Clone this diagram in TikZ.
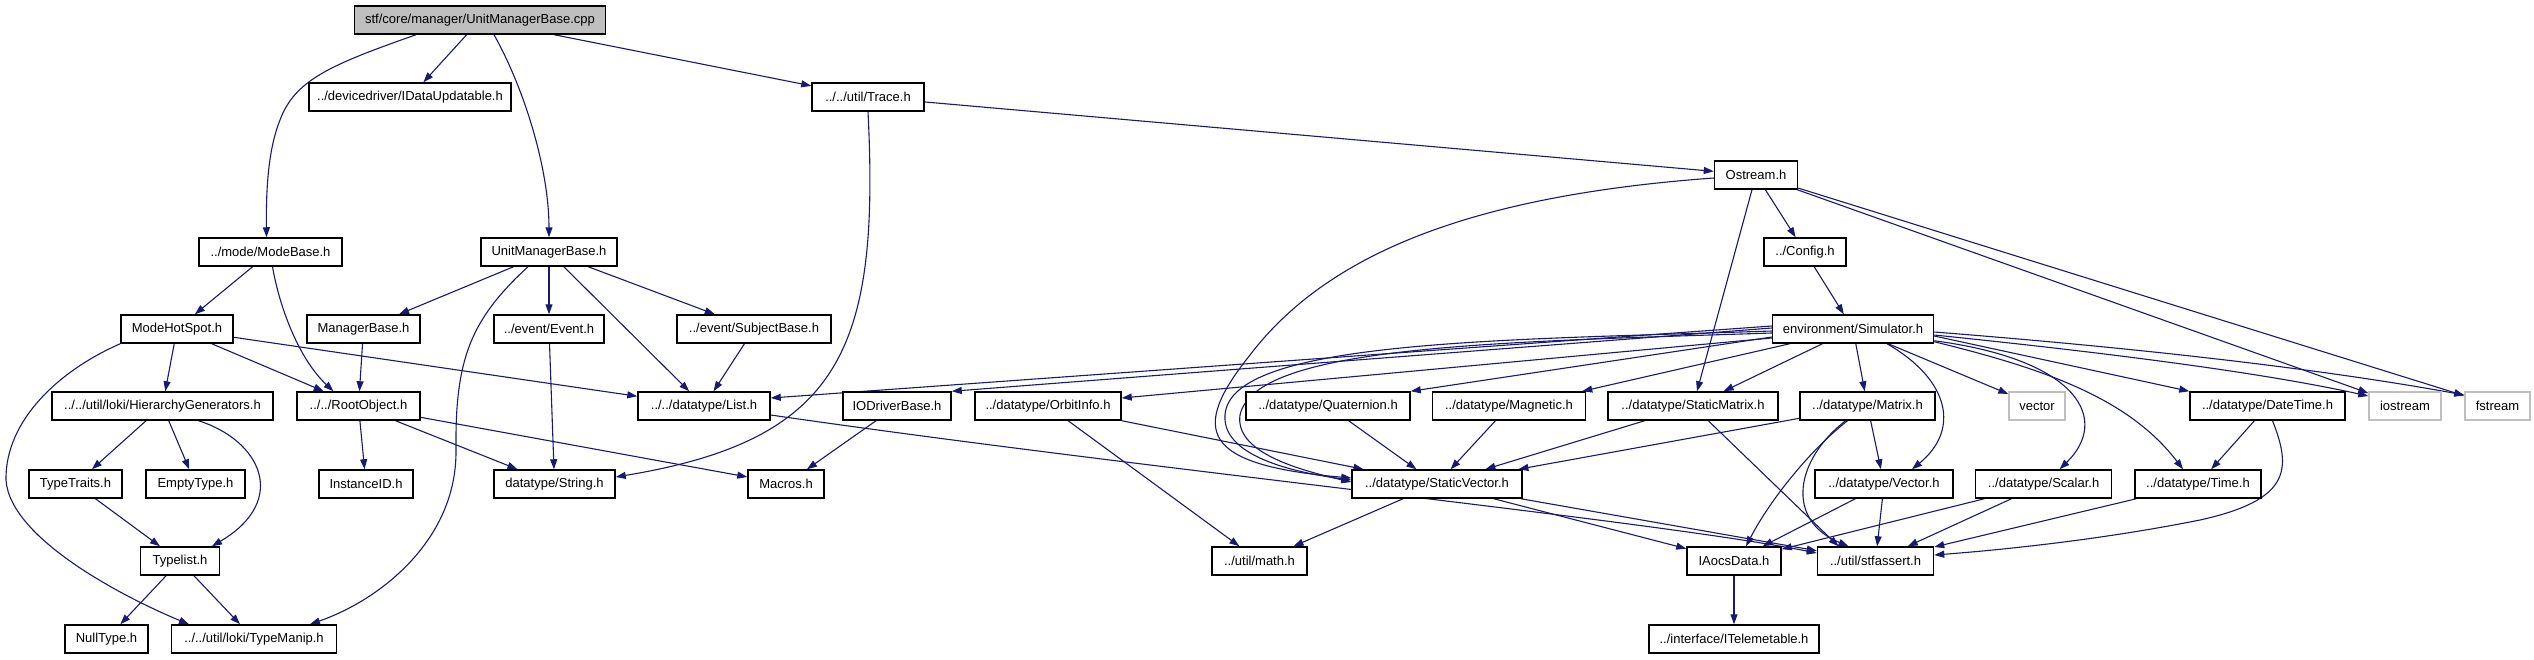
\documentclass[tikz,border=0pt]{standalone}
\usepackage{fontspec}
\setmainfont{Liberation Sans}
\usetikzlibrary{arrows.meta,calc}
\definecolor{edgeblue}{HTML}{191970}
\definecolor{boxgray}{HTML}{BFBFBF}
\pgfdeclarelayer{bgfill}
\pgfdeclarelayer{edges}
\pgfsetlayers{bgfill,edges,main}
\tikzset{
  box/.style={draw=black, line width=1.5pt, fill=white, minimum height=28pt, inner sep=0pt,
    font=\fontsize{13}{15}\selectfont},
  graybox/.style={box, draw=boxgray},
  rootbox/.style={box, fill=boxgray},
  edge/.style={draw=edgeblue, line width=1.1pt, -{Triangle[length=10pt,width=7pt]}},
}
\begin{document}
\begin{tikzpicture}[x=1pt,y=-1pt]
\begin{pgfonlayer}{bgfill}
\fill[white] (0,0) rectangle (2534,659);
\end{pgfonlayer}
\useasboundingbox (0,0) rectangle (2534,659);
% rank 0-2
\node[rootbox, minimum width=251pt] (cpp) at (480,20) {stf/core/manager/UnitManagerBase.cpp};
\node[box, minimum width=202pt] (idu) at (410,97) {../devicedriver/IDataUpdatable.h};
\node[box, minimum width=112pt] (trace) at (868,97) {../../util/Trace.h};
\node[box, minimum width=83pt] (ostream) at (1756,175) {Ostream.h};
% rank 3
\node[box, minimum width=143pt] (modebase) at (270.5,252) {../mode/ModeBase.h};
\node[box, minimum width=136pt] (umb) at (549,252) {UnitManagerBase.h};
\node[box, minimum width=82pt] (config) at (1805,252) {../Config.h};
% rank 4
\node[box, minimum width=112pt] (mhs) at (177,329) {ModeHotSpot.h};
\node[box, minimum width=113pt] (mgrbase) at (363.5,329) {ManagerBase.h};
\node[box, minimum width=110pt] (event) at (549,329) {../event/Event.h};
\node[box, minimum width=154pt] (subject) at (754,329) {../event/SubjectBase.h};
\node[box, minimum width=161pt] (sim) at (1853,329) {environment/Simulator.h};
% rank 5
\node[box, minimum width=221pt] (hg) at (162.5,406) {../../util/loki/HierarchyGenerators.h};
\node[box, minimum width=123pt] (root) at (358.5,406) {../../RootObject.h};
\node[box, minimum width=132pt] (list) at (704,406) {../../datatype/List.h};
\node[box, minimum width=108pt] (iodrv) at (897,406) {IODriverBase.h};
\node[box, minimum width=146pt] (orbit) at (1048,406) {../datatype/OrbitInfo.h};
\node[box, minimum width=164pt] (quat) at (1328,406) {../datatype/Quaternion.h};
\node[box, minimum width=153pt] (magn) at (1509,406) {../datatype/Magnetic.h};
\node[box, minimum width=170pt] (smat) at (1693,406) {../datatype/StaticMatrix.h};
\node[box, minimum width=135pt] (matrix) at (1867.5,406) {../datatype/Matrix.h};
\node[graybox, minimum width=56pt] (vectorstd) at (2037,406) {vector};
\node[box, minimum width=155pt] (datetime) at (2267.5,406) {../datatype/DateTime.h};
\node[graybox, minimum width=72pt] (iostream) at (2405,406) {iostream};
\node[graybox, minimum width=65pt] (fstream) at (2497.5,406) {fstream};
% rank 6
\node[box, minimum width=93pt] (ttraits) at (75.5,484) {TypeTraits.h};
\node[box, minimum width=99pt] (empty) at (195.5,484) {EmptyType.h};
\node[box, minimum width=94pt] (instid) at (366,484) {InstanceID.h};
\node[box, minimum width=121pt] (string) at (554.5,484) {datatype/String.h};
\node[box, minimum width=76pt] (macros) at (786,484) {Macros.h};
\node[box, minimum width=170pt] (svec) at (1437,484) {../datatype/StaticVector.h};
\node[box, minimum width=138pt] (vec) at (1884,484) {../datatype/Vector.h};
\node[box, minimum width=136pt] (scalar) at (2043.6,484) {../datatype/Scalar.h};
\node[box, minimum width=126pt] (time) at (2198,484) {../datatype/Time.h};
% rank 7
\node[box, minimum width=79pt] (typelist) at (180,561) {Typelist.h};
\node[box, minimum width=95pt] (math) at (1259.5,561) {../util/math.h};
\node[box, minimum width=94pt] (iaocs) at (1734,561) {IAocsData.h};
\node[box, minimum width=116pt] (stfassert) at (1875.5,561) {../util/stfassert.h};
% rank 8
\node[box, minimum width=83pt] (nulltype) at (106.5,639) {NullType.h};
\node[box, minimum width=165pt] (typemanip) at (254,639) {../../util/loki/TypeManip.h};
\node[box, minimum width=170pt] (itelem) at (1734,639) {../interface/ITelemetable.h};

\begin{pgfonlayer}{edges}
% cpp
\draw[edge] ($(cpp.south)+(-64,0)$) .. controls (330,65) and (295,80) .. (280,120) .. controls (268,150) and (266,190) .. ($(modebase.north)+(-4,0)$);
\draw[edge] (cpp) -- (idu);
\draw[edge] ($(cpp.south)+(14,0)$) .. controls (525,90) and (549,170) .. (umb.north);
\draw[edge] (cpp) -- (trace);
% trace
\draw[edge] (trace) -- (ostream);
\draw[edge] (trace.south) .. controls (880,350) and (840,440) .. ($(string.east)+(0,-7)$);
% ostream
\draw[edge] ($(ostream.west)+(0,3)$) .. controls (1480,195) and (1330,250) .. (1250,355) .. controls (1190,430) and (1200,465) .. ($(svec.west)+(0,-6)$);
\draw[edge] (ostream) -- (config);
\draw[edge] (ostream) -- (smat);
\draw[edge] (ostream) -- (iostream);
\draw[edge] (ostream) -- (fstream);
\draw[edge] (config) -- (sim);
% simulator
\draw[edge] ($(sim.west)+(0,-3)$) -- ($(list.east)+(0,-8)$);
\draw[edge] ($(sim.west)+(0,-1)$) -- (iodrv.north east);
\draw[edge] ($(sim.west)+(0,9)$) -- ($(orbit.east)+(0,-8)$);
\draw[edge] ($(sim.west)+(0,2)$) .. controls (1500,340) and (1230,340) .. (1225,415) .. controls (1222,455) and (1290,472) .. ($(svec.west)+(0,-4)$);
\draw[edge] ($(sim.west)+(0,4)$) .. controls (1500,342) and (1255,345) .. (1240,415) .. controls (1235,450) and (1290,468) .. ($(svec.west)+(0,-2)$);
\draw[edge] ($(sim.west)+(0,8)$) -- (quat.north east);
\draw[edge] ($(sim.south west)+(18,0)$) -- ($(magn.north east)+(-4,0)$);
\draw[edge] (sim) -- (smat);
\draw[edge] (sim) -- (matrix);
\draw[edge] ($(sim.south)+(34,0)$) .. controls (1950,380) and (1960,430) .. ($(vec.north)+(28,0)$);
\draw[edge] (sim) -- (vectorstd);
\draw[edge] ($(sim.south east)+(0,-3)$) .. controls (2080,360) and (2110,420) .. ($(scalar.north)+(16,0)$);
\draw[edge] ($(sim.south east)+(0,-2)$) .. controls (2050,370) and (2130,400) .. ($(time.north)+(-15,0)$);
\draw[edge] ($(sim.east)+(0,7)$) -- (datetime.north west);
\draw[edge] ($(sim.east)+(0,6)$) .. controls (2080,350) and (2250,370) .. ($(iostream.west)+(0,-10)$);
\draw[edge] ($(sim.east)+(0,3)$) .. controls (2100,345) and (2300,365) .. ($(fstream.west)+(0,-11)$);
% unit manager base
\draw[edge] (umb) -- (mgrbase);
\draw[edge] ($(umb.south)+(-21,0)$) .. controls (470,320) and (455,360) .. (456,450) .. controls (457,540) and (380,600) .. ($(typemanip.north)+(56,0)$);
\draw[edge] (umb) -- (event);
\draw[edge] (umb) -- (list);
\draw[edge] (umb) -- (subject);
% mode base
\draw[edge] (modebase) -- (mhs);
\draw[edge] ($(modebase.south)+(2,0)$) .. controls (280,310) and (300,360) .. ($(root.north)+(-25,0)$);
% mode hot spot
\draw[edge] (mhs) -- (hg);
\draw[edge] (mhs) -- (root);
\draw[edge] (mhs) -- (list);
\draw[edge] (mhs.south west) .. controls (60,370) and (5,420) .. (6,480) .. controls (10,540) and (130,600) .. ($(typemanip.north)+(-65,0)$);
\draw[edge] (mgrbase) -- (root);
\draw[edge] (event) -- (string);
\draw[edge] (subject) -- (list);
% hierarchy generators
\draw[edge] (hg) -- (ttraits);
\draw[edge] (hg) -- (empty);
\draw[edge] ($(hg.south)+(36,0)$) .. controls (260,440) and (290,500) .. ($(typelist.north)+(32,0)$);
% root object
\draw[edge] (root) -- (instid);
\draw[edge] (root) -- (string);
\draw[edge] (root) -- (macros);
% list
\draw[edge] ($(list.east)+(0,9)$) .. controls (1150,470) and (1650,520) .. ($(stfassert.west)+(0,-8)$);
\draw[edge] (iodrv) -- (macros);
% orbit, quaternion, magnetic
\draw[edge] (orbit) -- (svec);
\draw[edge] (orbit) -- (math);
\draw[edge] (quat) -- (svec);
\draw[edge] (magn) -- (svec);
% static matrix, matrix
\draw[edge] (smat) -- (svec);
\draw[edge] (smat) -- ($(stfassert.north)+(-37,0)$);
\draw[edge] (matrix) -- (svec);
\draw[edge] (matrix) -- (vec);
\draw[edge] ($(matrix.south)+(-20,0)$) .. controls (1810,450) and (1770,500) .. ($(iaocs.north)+(12,0)$);
\draw[edge] ($(matrix.south)+(-22,0)$) .. controls (1795,460) and (1785,520) .. ($(stfassert.north)+(-27,0)$);
% static vector
\draw[edge] (svec) -- (math);
\draw[edge] (svec) -- (iaocs);
\draw[edge] (svec) -- (stfassert);
% vector, scalar, time, datetime
\draw[edge] (vec) -- (iaocs);
\draw[edge] (vec) -- (stfassert);
\draw[edge] (scalar) -- (iaocs);
\draw[edge] (scalar) -- (stfassert);
\draw[edge] (time) -- (stfassert);
\draw[edge] (datetime) -- (time);
\draw[edge] ($(datetime.south)+(5,0)$) .. controls (2292,470) and (2290,500) .. (2200,520) .. controls (2100,540) and (2000,550) .. ($(stfassert.east)+(0,-6)$);
% loki
\draw[edge] (ttraits) -- (typelist);
\draw[edge] (typelist) -- (nulltype);
\draw[edge] (typelist) -- (typemanip);
\draw[edge] (iaocs) -- (itelem);
\end{pgfonlayer}
\end{tikzpicture}
\end{document}
